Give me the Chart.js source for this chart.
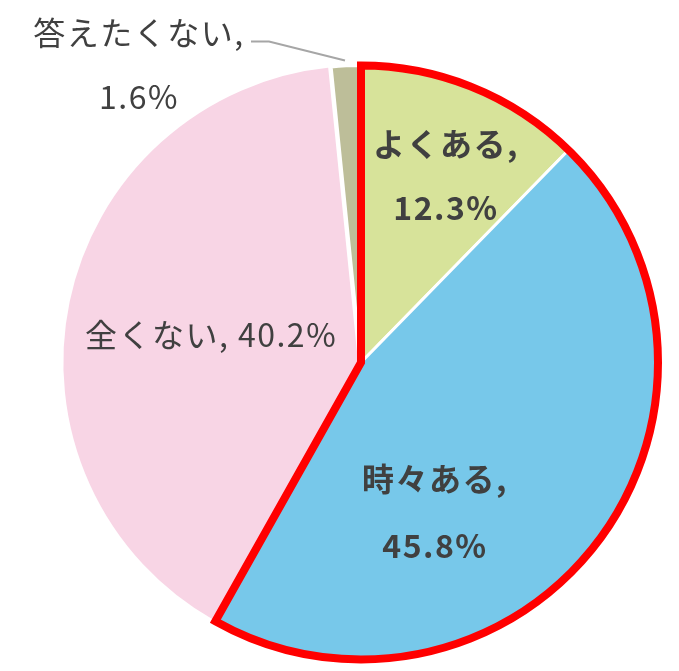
<!DOCTYPE html>
<html>
<head>
<meta charset="utf-8">
<script src="https://cdn.jsdelivr.net/npm/chart.js@4/dist/chart.umd.min.js"></script>
<style>
  html, body { margin: 0; padding: 0; background: #fff; }
  #wrap { width: 679px; height: 671px; }
</style>
</head>
<body>
<div id="wrap"><canvas id="pieChart" width="679" height="671"></canvas></div>
<script>
// データ
var categories = ['よくある', '時々ある', '全くない', '答えたくない'];
var values = [12.3, 45.8, 40.2, 1.6];
var colors = ['#d7e39a', '#77c8ea', '#f8d5e5', '#bdbe99'];

// ラベルの位置 (中心からのずれ, px) と書式
var labelLayout = [
    { lines: 2, dx: 85, dy: -219, gap: 64, bold: true },
    { lines: 2, dx: 74, dy: 116, gap: 67, bold: true },
    { lines: 1, dx: -150, dy: -28, bold: false },
    { lines: 2, dx: -222, dy: -330, gap: 64, bold: false }
];

// 赤い枠線 (よくある + 時々ある)
var redOutline = {
    id: 'redOutline',
    afterDatasetsDraw: function (chart) {
        var arcs = chart.getDatasetMeta(0).data;
        var a0 = arcs[0], a1 = arcs[1];
        var c = chart.ctx;
        c.save();
        c.beginPath();
        c.moveTo(a0.x, a0.y);
        c.arc(a0.x, a0.y, a0.outerRadius, a0.startAngle, a1.endAngle);
        c.closePath();
        c.lineWidth = 8;
        c.lineJoin = 'miter';
        c.strokeStyle = '#ff0000';
        c.stroke();
        c.restore();
    }
};

// ラベル描画
var pieLabels = {
    id: 'pieLabels',
    afterDraw: function (chart) {
        var arc = chart.getDatasetMeta(0).data[0];
        var cx = arc.x, cy = arc.y;
        var c = chart.ctx;
        c.save();
        c.fillStyle = '#404040';
        c.textAlign = 'center';
        c.textBaseline = 'middle';
        c.letterSpacing = '1.5px';
        categories.forEach(function (name, i) {
            var l = labelLayout[i];
            c.font = (l.bold ? 'bold ' : '') + '32px "Noto Sans CJK JP", "Noto Sans", sans-serif';
            var pct = values[i].toFixed(1) + '%';
            if (l.lines === 1) {
                c.fillText(name + ', ' + pct, cx + l.dx, cy + l.dy);
            } else {
                c.fillText(name + ',', cx + l.dx, cy + l.dy);
                c.fillText(pct, cx + l.dx, cy + l.dy + l.gap);
            }
        });
        // 引き出し線 (答えたくない)
        c.beginPath();
        c.moveTo(cx - 110, cy - 321);
        c.lineTo(cx - 92, cy - 321);
        c.lineTo(cx - 16, cy - 302);
        c.lineWidth = 2;
        c.strokeStyle = '#a6a6a6';
        c.stroke();
        c.restore();
    }
};

new Chart(document.getElementById('pieChart').getContext('2d'), {
    type: 'pie',
    data: {
        labels: categories,
        datasets: [{
            data: values,
            backgroundColor: colors,
            borderColor: '#ffffff',
            borderWidth: 3,
            offset: [0, 0, 6, 0]
        }]
    },
    options: {
        responsive: false,
        animation: false,
        layout: { padding: { top: 61, bottom: 7, left: 59, right: 16 } },
        plugins: {
            legend: { display: false },
            tooltip: { enabled: false }
        }
    },
    plugins: [redOutline, pieLabels]
});
</script>
</body>
</html>
